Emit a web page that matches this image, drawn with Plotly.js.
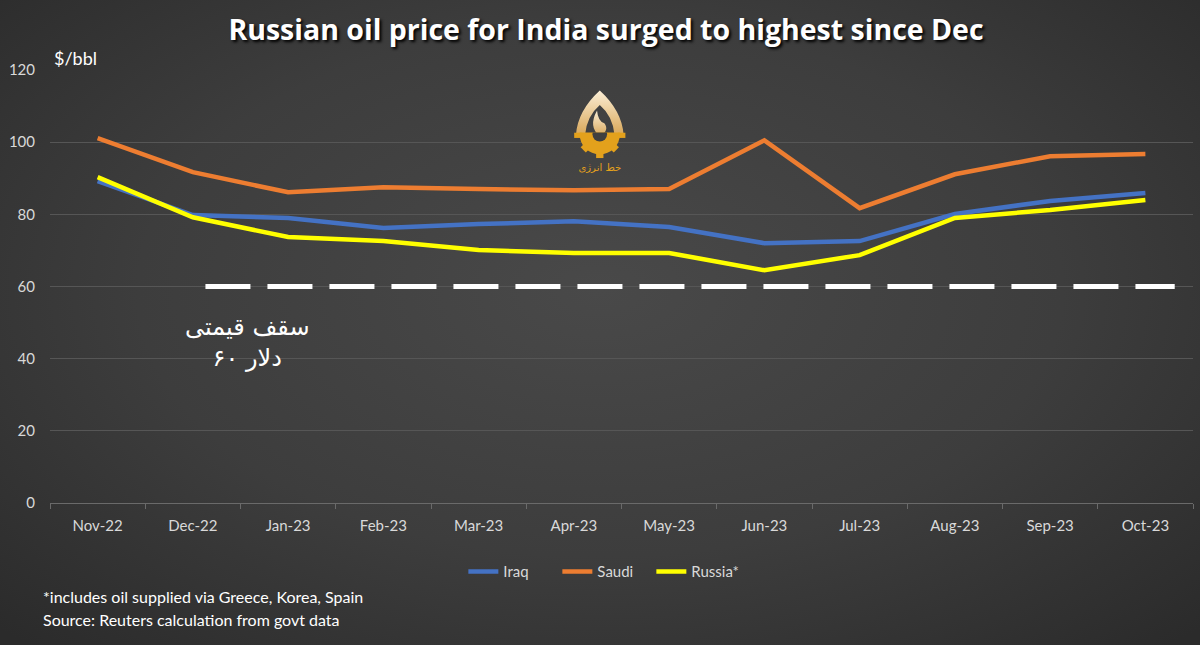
<!DOCTYPE html>
<html>
<head>
<meta charset="utf-8">
<script src="https://cdn.plot.ly/plotly-3.0.1.min.js"></script>
<style>
  html, body { margin:0; padding:0; width:1200px; height:645px; overflow:hidden; }
  body { background: radial-gradient(ellipse 70% 75% at 50% 45%, #494949 0%, #3d3d3d 55%, #2b2b2b 100%); }
  #chart { width:1200px; height:645px; }
</style>
</head>
<body>
<div id="chart"></div>
<script>
// ---- data ----
const months = ["Nov-22","Dec-22","Jan-23","Feb-23","Mar-23","Apr-23","May-23","Jun-23","Jul-23","Aug-23","Sep-23","Oct-23"];
const iraq   = [89.2, 79.8, 79.0, 76.2, 77.3, 78.1, 76.5, 72.0, 72.6, 80.1, 83.7, 85.9];
const saudi  = [101.1, 91.7, 86.1, 87.5, 87.0, 86.7, 87.0, 100.5, 81.7, 91.1, 96.1, 96.7];
const russia = [90.3, 79.2, 73.7, 72.6, 70.1, 69.3, 69.3, 64.5, 68.7, 79.0, 81.2, 84.0];
const priceCap = 60;
const yTicks = [0, 20, 40, 60, 80, 100, 120];

const titleText = "Russian oil price for India surged to highest since Dec";
const unitText = "$/bbl";
const capText = "سقف قیمتی<br>دلار ۶۰";
const noteText = "*includes oil supplied via Greece, Korea, Spain";
const sourceText = "Source: Reuters calculation from govt data";

// ---- logo (simple SVG) ----
const logoSvg = `<svg xmlns="http://www.w3.org/2000/svg" width="60" height="100" viewBox="0 0 60 100">
<defs><linearGradient id="g" x1="0" y1="0" x2="0" y2="1"><stop offset="0" stop-color="#fbeed6"/><stop offset="1" stop-color="#d9a85a"/></linearGradient>
<clipPath id="c"><rect x="0" y="52" width="60" height="40"/></clipPath></defs>
<path d="M4,54 Q6,28 30,6 Q54,28 56,54 L46,54 Q44,34 30,22 Q16,34 14,54 Z" fill="url(#g)"/>
<path d="M30,56 Q17,46 27,28 Q28,40 35,42 Q41,50 30,56 Z" fill="url(#g)"/>
<g clip-path="url(#c)" fill="#e3a11c">
<circle cx="30" cy="54" r="22"/>
<rect x="26" y="74" width="8" height="6"/>
<rect x="10" y="66" width="8" height="6" transform="rotate(45 14 69)"/>
<rect x="42" y="66" width="8" height="6" transform="rotate(-45 46 69)"/>
<rect x="2" y="52" width="8" height="6"/>
<rect x="50" y="52" width="8" height="6"/>
</g>
<circle cx="30" cy="54" r="8" fill="#3f3f3f" clip-path="url(#c)"/>
<text x="30" y="94" font-size="11" font-family="DejaVu Sans" fill="#e3a11c" text-anchor="middle">خط انرژی</text>
</svg>`;
const logoSrc = "data:image/svg+xml;charset=utf-8," + encodeURIComponent(logoSvg);

const lineCommon = { type: "scatter", mode: "lines", x: months };
const traces = [
  Object.assign({}, lineCommon, { name: "Iraq",    y: iraq,   line: { color: "#4472C4", width: 4.5 } }),
  Object.assign({}, lineCommon, { name: "Saudi",   y: saudi,  line: { color: "#ED7D31", width: 4.5 } }),
  Object.assign({}, lineCommon, { name: "Russia*", y: russia, line: { color: "#FFFF00", width: 4.5 } })
];

const fontFam = "Lato, 'Open Sans', sans-serif";
const layout = {
  width: 1200, height: 645,
  paper_bgcolor: "rgba(0,0,0,0)",
  plot_bgcolor: "rgba(0,0,0,0)",
  margin: { l: 50, r: 7, t: 70, b: 142 },
  font: { family: fontFam, color: "#d9d9d9", size: 13 },
  title: {
    text: "<b>" + titleText + "</b>",
    x: 0.505, xanchor: "center", y: 0.953, yanchor: "middle",
    font: { family: "'Open Sans', sans-serif", size: 28.5, color: "#ffffff", shadow: "2px 2px 3px #000" }
  },
  xaxis: {
    type: "category",
    range: [-0.5, 11.5],
    showgrid: false,
    showline: true, linecolor: "#6a6a6a", linewidth: 1,
    ticks: "outside", tickson: "boundaries", ticklen: 5, tickcolor: "#6a6a6a",
    ticklabelstandoff: 9,
    tickfont: { size: 15, color: "#d9d9d9" },
    zeroline: false, fixedrange: true
  },
  yaxis: {
    range: [0, 120],
    tickvals: yTicks,
    ticktext: yTicks.map(String),
    showgrid: true, gridcolor: "#565656", gridwidth: 1,
    zeroline: false, showline: false,
    ticks: "", ticklabelstandoff: 14,
    tickfont: { size: 15, color: "#d9d9d9" },
    fixedrange: true
  },
  showlegend: true,
  legend: {
    orientation: "h", x: 0.485, xanchor: "center", y: -0.159, yanchor: "middle",
    font: { size: 15, color: "#d9d9d9" },
    bgcolor: "rgba(0,0,0,0)", entrywidth: 49, entrywidthmode: "pixels", tracegroupgap: 0
  },
  shapes: [
    { type: "line", xref: "paper", yref: "y", x0: 0.136, x1: 0.984, y0: priceCap, y1: priceCap,
      line: { color: "#ffffff", width: 5, dash: "45px,17px" } }
  ],
  annotations: [
    { text: unitText, xref: "paper", yref: "paper", x: 0.002, y: 1.028, xanchor: "left", yanchor: "middle",
      showarrow: false, font: { size: 18, color: "#ffffff" } },
    { text: capText, xref: "paper", yref: "y", x: 0.173, y: 44.5, xanchor: "center", yanchor: "middle",
      showarrow: false, align: "center", font: { family: "'DejaVu Sans', sans-serif", size: 24, color: "#ffffff" } },
    { text: noteText, xref: "paper", yref: "paper", x: -0.008, y: -0.217, xanchor: "left", yanchor: "middle",
      showarrow: false, font: { size: 16, color: "#ffffff" } },
    { text: sourceText, xref: "paper", yref: "paper", x: -0.008, y: -0.268, xanchor: "left", yanchor: "middle",
      showarrow: false, font: { size: 16, color: "#ffffff" } }
  ],
  images: [
    { source: logoSrc, xref: "paper", yref: "paper", x: 0.481, y: 0.97, sizex: 0.048, sizey: 0.22,
      xanchor: "center", yanchor: "top", sizing: "contain", layer: "above" }
  ]
};

Plotly.newPlot("chart", traces, layout, { displayModeBar: false, staticPlot: true });
</script>
</body>
</html>
